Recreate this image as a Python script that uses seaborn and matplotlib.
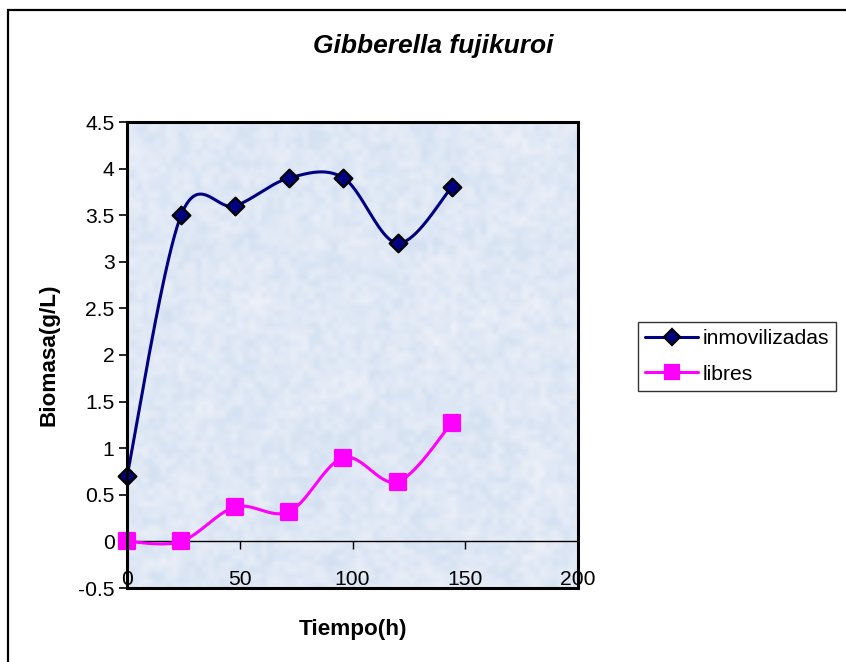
import numpy as np
import pandas as pd
import matplotlib
matplotlib.use("Agg")
import matplotlib.pyplot as plt
from matplotlib.patches import Rectangle
import seaborn as sns

# Fermentation time (h) and biomass (g/L)
tiempo = [0, 24, 48, 72, 96, 120, 144]
inmovilizadas = [0.7, 3.5, 3.6, 3.9, 3.9, 3.2, 3.8]
libres = [0.0, 0.0, 0.37, 0.32, 0.9, 0.64, 1.27]

x_ticks = [0, 50, 100, 150, 200]
y_ticks = [-0.5, 0, 0.5, 1, 1.5, 2, 2.5, 3, 3.5, 4, 4.5]

title = "Gibberella fujikuroi"
x_label = "Tiempo(h)"
y_label = "Biomasa(g/L)"


def smooth_curve(xs, ys, steps=40):
    """Spreadsheet-style smoothed line: cubic Bezier segments with
    Catmull-Rom control points through every data point."""
    p = np.column_stack([xs, ys]).astype(float)
    n = len(p)
    out = []
    for i in range(n - 1):
        p0 = p[i - 1] if i > 0 else p[i]
        p1 = p[i]
        p2 = p[i + 1]
        p3 = p[i + 2] if i + 2 < n else p[i + 1]
        c1 = p1 + (p2 - p0) / 6.0
        c2 = p2 - (p3 - p1) / 6.0
        t = np.linspace(0, 1, steps, endpoint=(i == n - 2))[:, None]
        seg = ((1 - t) ** 3) * p1 + 3 * ((1 - t) ** 2) * t * c1 \
            + 3 * (1 - t) * t ** 2 * c2 + t ** 3 * p2
        out.append(seg)
    return np.vstack(out)


def paper_texture(h, w, seed=7):
    """Soft mottled fill for the plot area (light blue paper look)."""
    rng = np.random.default_rng(seed)
    img = np.zeros((h, w))
    for scale, weight in [(6, 0.5), (14, 0.35), (40, 0.15)]:
        small = rng.random((h // scale + 2, w // scale + 2))
        yy = np.linspace(0, small.shape[0] - 1.001, h)
        xx = np.linspace(0, small.shape[1] - 1.001, w)
        y0 = yy.astype(int)
        x0 = xx.astype(int)
        fy = (yy - y0)[:, None]
        fx = (xx - x0)[None, :]
        a = small[y0][:, x0]
        b = small[y0][:, x0 + 1]
        c = small[y0 + 1][:, x0]
        d = small[y0 + 1][:, x0 + 1]
        img += weight * ((a * (1 - fx) + b * fx) * (1 - fy) + (c * (1 - fx) + d * fx) * fy)
    img = (img - img.min()) / (img.max() - img.min())
    dark = np.array([0.82, 0.875, 0.945])
    light = np.array([0.93, 0.945, 0.975])
    return dark + (light - dark) * img[..., None]


sns.set_theme(style="white")
plt.rcParams["font.family"] = ["Liberation Sans", "DejaVu Sans"]
plt.rcParams["text.color"] = "black"
plt.rcParams["axes.labelcolor"] = "black"

fig = plt.figure(figsize=(8.46, 6.62), dpi=100)
W, H = 846, 662
# plot area in pixels: left 127, right 578, top 122, bottom 588
ax = fig.add_axes([127 / W, 1 - 588 / H, (578 - 127) / W, (588 - 122) / H])
ax.imshow(paper_texture(466, 451), extent=(0, 1, 0, 1), transform=ax.transAxes,
          aspect="auto", zorder=0, interpolation="bilinear")

series = [
    ("inmovilizadas", inmovilizadas, "#000080", "D", "#000080", "black", 9),
    ("libres", libres, "#ff00ff", "s", "#ff00ff", "#ff00ff", 11),
]

for name, vals, color, marker, face, edge, msize in series:
    curve = smooth_curve(tiempo, vals)
    cdf = pd.DataFrame({"x": curve[:, 0], "y": curve[:, 1]})
    sns.lineplot(data=cdf, x="x", y="y", sort=False, ax=ax, color=color,
                 linewidth=2.2, zorder=3, clip_on=False)
    pdf = pd.DataFrame({"x": tiempo, "y": vals})
    sns.scatterplot(data=pdf, x="x", y="y", ax=ax, marker=marker, s=msize ** 2,
                    color=face, edgecolor=edge, linewidth=1.6, zorder=4,
                    clip_on=False)
    ax.plot([], [], color=color, linewidth=2.2, marker=marker, markersize=msize * 0.95,
            markerfacecolor=face, markeredgecolor=edge, markeredgewidth=1.6, label=name)

ax.set_xlim(0, 200)
ax.set_ylim(-0.5, 4.5)
ax.set_yticks(y_ticks)
ax.set_yticklabels([f"{v:g}" for v in y_ticks])
ax.set_xticks(x_ticks)
ax.set_xticklabels([f"{v:g}" for v in x_ticks])

for s in ax.spines.values():
    s.set_color("black")
    s.set_linewidth(2.2)
    s.set_zorder(5)

ax.tick_params(axis="y", direction="out", length=6, width=1.2, color="black",
               labelsize=15.2, labelcolor="black", pad=3, left=True)
# category labels sit just above the plot-area bottom edge
ax.tick_params(axis="x", bottom=False, labelsize=15.2, labelcolor="black", pad=-19)
for lbl in ax.get_xticklabels():
    lbl.set_zorder(6)

# horizontal axis crossing at y = 0, ticks pointing down
ax.axhline(0, color="black", linewidth=1.0, zorder=2)
sec = ax.secondary_xaxis(0.1)
sec.set_xticks(x_ticks)
sec.set_xticklabels([])
sec.tick_params(direction="out", length=6, width=1.0, color="black")
sec.spines["bottom"].set_visible(False)

ax.set_xlabel(x_label, fontsize=16.2, fontweight="bold", labelpad=22)
ax.set_ylabel(y_label, fontsize=16.2, fontweight="bold", labelpad=13)
fig.text(433 / W, 1 - 46 / H, title, fontsize=19, fontweight="bold",
         style="italic", ha="center", va="center")

leg = ax.legend(loc="upper left", bbox_to_anchor=(638 / W, 1 - 322 / H),
                bbox_transform=fig.transFigure, frameon=True, fancybox=False,
                edgecolor="black", fontsize=15.2, handlelength=2.5,
                handletextpad=0.2, borderpad=0.35, labelspacing=0.78,
                borderaxespad=0)
leg.get_frame().set_linewidth(1.0)

# outer chart border
fig.patches.append(Rectangle((8 / W, -0.05), 1.2, 1 - 10 / H + 0.05,
                             transform=fig.transFigure, fill=False,
                             edgecolor="black", linewidth=1.6))

fig.savefig("out.png", dpi=100, facecolor="white")
